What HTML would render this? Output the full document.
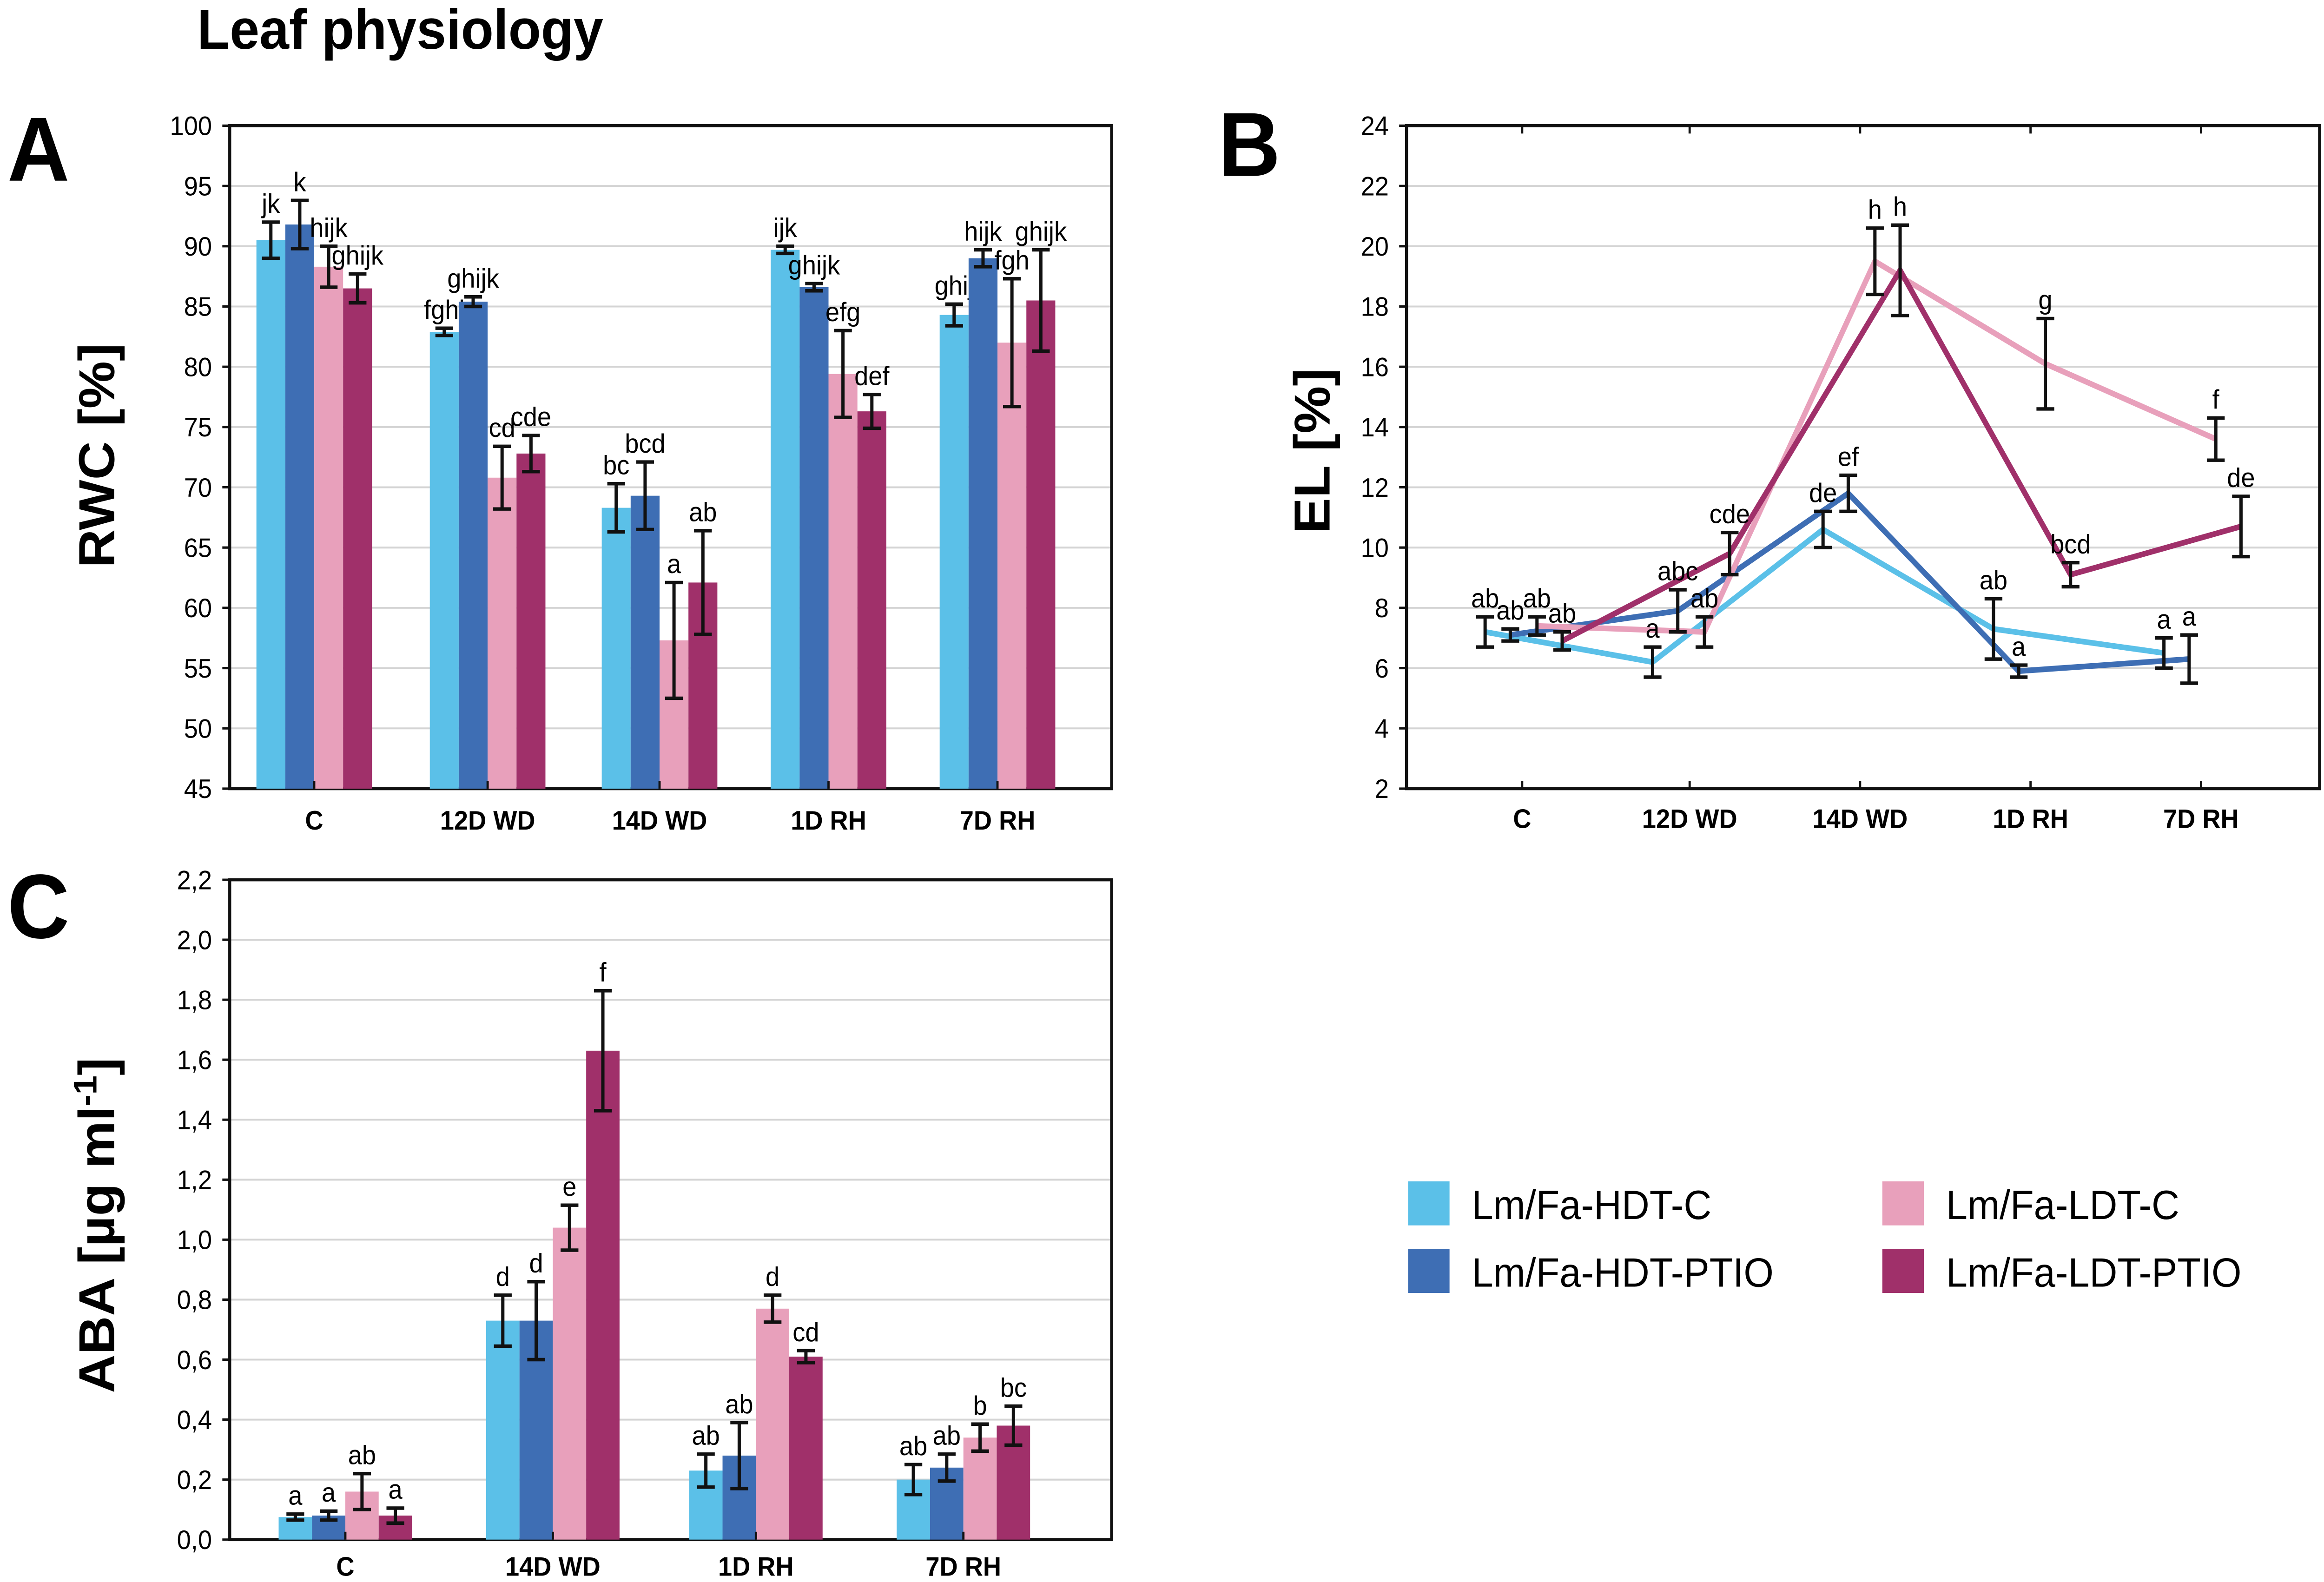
<!DOCTYPE html>
<html><head><meta charset="utf-8"><style>
html,body{margin:0;padding:0;background:#fff;overflow:hidden;width:100%;height:100%;}
svg{display:block;position:fixed;left:0;top:0;width:100vw;height:100vh;font-family:"Liberation Sans",Arial,sans-serif;}
</style></head><body>
<svg id="fig" viewBox="0 0 1568 1007" preserveAspectRatio="none" xmlns="http://www.w3.org/2000/svg">
<rect width="1568" height="1007" fill="#fff"/>
<text x="133" y="31" font-size="36" font-weight="bold">Leaf physiology</text>
<text x="5" y="115" font-size="58" font-weight="bold">A</text>
<text x="822" y="112" font-size="58" font-weight="bold">B</text>
<text x="5" y="597" font-size="58" font-weight="bold">C</text>
<text transform="translate(77,290) rotate(-90)" text-anchor="middle" font-size="34" font-weight="bold">RWC [%]</text>
<text transform="translate(897,287) rotate(-90)" text-anchor="middle" font-size="34" font-weight="bold">EL [%]</text>
<text transform="translate(77,780) rotate(-90)" text-anchor="middle" font-size="34" font-weight="bold">ABA [µg ml<tspan dy="-12" font-size="22">-1</tspan><tspan dy="12">]</tspan></text>
<g id="pa"></g>
<g id="pb"></g>
<g id="pc"></g>
<g font-size="26">
 <g><rect x="950" y="752" width="28" height="28" fill="#5bc0e8"/><text x="993" y="776">Lm/Fa-HDT-C</text></g>
 <g><rect x="950" y="795" width="28" height="28" fill="#3e6eb4"/><text x="993" y="819">Lm/Fa-HDT-PTIO</text></g>
 <g><rect x="1270" y="752" width="28" height="28" fill="#e8a0bb"/><text x="1313" y="776">Lm/Fa-LDT-C</text></g>
 <g><rect x="1270" y="795" width="28" height="28" fill="#a0306a"/><text x="1313" y="819">Lm/Fa-LDT-PTIO</text></g>
</g>
</svg>
<script>
const NS="http://www.w3.org/2000/svg";
const colors=["#5bc0e8","#3e6eb4","#e8a0bb","#a0306a"];
// Panel A data
const catsA=["C","12D WD","14D WD","1D RH","7D RH"];
const rwcHdtC=[90.5,82.9,68.3,89.7,84.3];
const rwcHdtP=[91.8,85.4,69.3,86.6,89.0];
const rwcLdtC=[88.3,70.8,57.3,79.4,82.0];
const rwcLdtP=[86.5,72.8,62.1,76.3,85.5];
const rwcErrHdtC=[1.5,0.3,2.0,0.3,0.9];
const rwcErrHdtP=[2.0,0.4,2.8,0.3,0.7];
const rwcErrLdtC=[1.7,2.6,4.8,3.6,5.3];
const rwcErrLdtP=[1.2,1.5,4.3,1.4,4.2];
const rwcLetters=[["jk","fghi","bc","ijk","ghij"],["k","ghijk","bcd","ghijk","hijk"],["hijk","cd","a","efg","fgh"],["ghijk","cde","ab","def","ghijk"]];
const ticksA=[45,50,55,60,65,70,75,80,85,90,95,100];
// Panel B data
const catsB=["C","12D WD","14D WD","1D RH","7D RH"];
const elHdtC=[7.2,6.2,10.6,7.3,6.5];
const elHdtP=[7.1,7.9,11.8,5.9,6.3];
const elLdtC=[7.4,7.2,19.5,16.1,13.6];
const elLdtP=[6.9,9.8,19.2,9.1,10.7];
const elErrHdtC=[0.5,0.5,0.6,1.0,0.5];
const elErrHdtP=[0.2,0.7,0.6,0.2,0.8];
const elErrLdtC=[0.3,0.5,1.1,1.5,0.7];
const elErrLdtP=[0.3,0.7,1.5,0.4,1.0];
const elLetters=[["ab","a","de","ab","a"],["ab","abc","ef","a","a"],["ab","ab","h","g","f"],["ab","cde","h","bcd","de"]];
const ticksB=[2,4,6,8,10,12,14,16,18,20,22,24];
// Panel C data
const catsC=["C","14D WD","1D RH","7D RH"];
const abaHdtC=[0.075,0.73,0.23,0.20];
const abaHdtP=[0.08,0.73,0.28,0.24];
const abaLdtC=[0.16,1.04,0.77,0.34];
const abaLdtP=[0.08,1.63,0.61,0.38];
const abaErrHdtC=[0.01,0.085,0.055,0.05];
const abaErrHdtP=[0.015,0.13,0.11,0.045];
const abaErrLdtC=[0.06,0.075,0.045,0.045];
const abaErrLdtP=[0.025,0.2,0.02,0.065];
const abaLetters=[["a","d","ab","ab"],["a","d","ab","ab"],["ab","e","d","b"],["a","f","cd","bc"]];
const ticksC=[0,0.2,0.4,0.6,0.8,1.0,1.2,1.4,1.6,1.8,2.0,2.2];

function mk(parent,tag,attrs,txt){const e=document.createElementNS(NS,tag);for(const k in attrs)e.setAttribute(k,attrs[k]);if(txt!==undefined)e.textContent=txt;parent.appendChild(e);return e;}
function frame(g,x0,x1,y0,y1,ticks,ys,fmt,name){
  ticks.forEach(t=>{const y=ys(t);
    if(t!==ticks[0]&&t!==ticks[ticks.length-1]){const l=mk(g,"line",{x1:x0,x2:x1,y1:y,y2:y,stroke:"#d4d4d4","stroke-width":1.2});
    
    }
    const tx=mk(g,"text",{x:x0-12,y:y+6,"text-anchor":"end","font-size":17},fmt(t));
    
    
    mk(g,"line",{x1:x0-5,x2:x0,y1:y,y2:y,stroke:"#111","stroke-width":1.5});
  });
  const r=mk(g,"rect",{x:x0,y:y1,width:x1-x0,height:y0-y1,fill:"none",stroke:"#111","stroke-width":2});
  
  
}
function errbar(g,x,yTop,yBot,name){
  const e=mk(g,"path",{d:`M${x},${yTop}V${yBot}M${x-6},${yTop}H${x+6}M${x-6},${yBot}H${x+6}`,stroke:"#111","stroke-width":2.2,fill:"none"});
  
  
}
function barPanel(g,cats,series,errs,letters,ticks,x0,x1,yBot,yTopPx,vmin,vmax,centers,bw,fmt,name,catY){
  const ys=v=>yBot-(v-vmin)/(vmax-vmin)*(yBot-yTopPx);
  frame(g,x0,x1,yBot,yTopPx,ticks,ys,fmt,name);
  cats.forEach((c,i)=>{
    const cx=centers[i];
    const t=mk(g,"text",{x:cx,y:catY,"text-anchor":"middle","font-size":17,"font-weight":"bold"},c);
    
    
    series.forEach((s,k)=>{
      const bx=cx-2*bw+k*bw, v=s[i], y=ys(v);
      const b=mk(g,"rect",{x:bx,y:y,width:bw,height:yBot-y,fill:colors[k]});
      
      
      const e=errs[k][i], mx=bx+bw/2;
      errbar(g,mx,ys(v+e),ys(v-e),'error-bar');
      const lt=mk(g,"text",{x:mx,y:ys(v+e)-6,"text-anchor":"middle","font-size":17},letters[k][i]);
      
      
    });
    mk(g,"line",{x1:cx,x2:cx,y1:yBot,y2:yBot-5,stroke:"#111","stroke-width":1.5});
  });
}
barPanel(document.getElementById("pa"),catsA,[rwcHdtC,rwcHdtP,rwcLdtC,rwcLdtP],[rwcErrHdtC,rwcErrHdtP,rwcErrLdtC,rwcErrLdtP],rwcLetters,ticksA,155,750,502,80,45,100,[212,329,445,559,673],19.5,t=>String(t),"rwc",528);
barPanel(document.getElementById("pc"),catsC,[abaHdtC,abaHdtP,abaLdtC,abaLdtP],[abaErrHdtC,abaErrHdtP,abaErrLdtC,abaErrLdtP],abaLetters,ticksC,155,750,980,560,0,2.2,[233,373,510,650],22.5,t=>t.toFixed(1).replace(".",","),"aba",1003);
(function(){
  const g=document.getElementById("pb");
  const x0=949,x1=1565,yBot=502,yTop=80;
  const ys=v=>yBot-(v-2)/22*(yBot-yTop);
  frame(g,x0,x1,yBot,yTop,ticksB,ys,t=>String(t),"el");
  const centers=[1027,1140,1255,1370,1485], offs=[-25,-8,10,27];
  catsB.forEach((c,i)=>{
    const t=mk(g,"text",{x:centers[i],y:527,"text-anchor":"middle","font-size":17,"font-weight":"bold"},c);
    
    
    mk(g,"line",{x1:centers[i],x2:centers[i],y1:yTop,y2:yTop+5,stroke:"#111","stroke-width":1.5});
    mk(g,"line",{x1:centers[i],x2:centers[i],y1:yBot,y2:yBot-5,stroke:"#111","stroke-width":1.5});
  });
  const series=[elHdtC,elHdtP,elLdtC,elLdtP], errs=[elErrHdtC,elErrHdtP,elErrLdtC,elErrLdtP];
  series.forEach((s,k)=>{
    const d=s.map((v,i)=>(i?"L":"M")+(centers[i]+offs[k])+","+ys(v)).join("");
    const p=mk(g,"path",{d:d,fill:"none",stroke:colors[k],"stroke-width":3.6,"stroke-linejoin":"round"});
    
    
  });
  series.forEach((s,k)=>{
    s.forEach((v,i)=>{
      const x=centers[i]+offs[k], e=errs[k][i];
      errbar(g,x,ys(v+e),ys(v-e),'error-bar');
      const lt=mk(g,"text",{x:x,y:ys(v+e)-6,"text-anchor":"middle","font-size":17},elLetters[k][i]);
      
      
    });
  });
})();
</script>
</body></html>
